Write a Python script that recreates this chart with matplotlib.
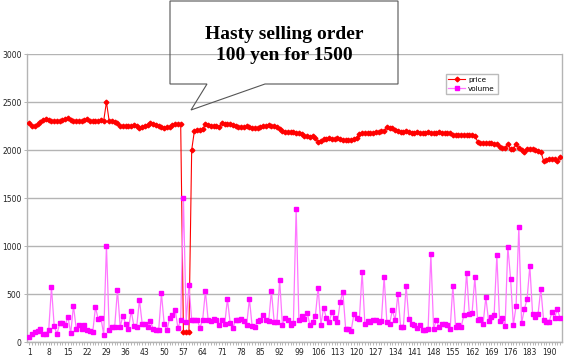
import matplotlib
matplotlib.use("Agg")
import matplotlib.pyplot as plt
from matplotlib.patches import Polygon

# price per day (yen)
price = [
    2278, 2255, 2250, 2270, 2290, 2310, 2320, 2315, 2306, 2306,
    2300, 2306, 2310, 2320, 2330, 2310, 2306, 2300, 2306, 2300,
    2310, 2320, 2306, 2300, 2306, 2300, 2310, 2306, 2500, 2300,
    2300, 2295, 2285, 2255, 2250, 2250, 2255, 2250, 2260, 2245,
    2233, 2240, 2255, 2265, 2278, 2270, 2261, 2250, 2240, 2233,
    2240, 2244, 2260, 2271, 2275, 2270, 100, 100, 100, 2000,
    2202, 2205, 2210, 2216, 2268, 2260, 2255, 2250, 2245, 2240,
    2285, 2268, 2270, 2268, 2260, 2250, 2243, 2243, 2240, 2245,
    2235, 2233, 2233, 2233, 2240, 2250, 2254, 2256, 2254, 2250,
    2243, 2215, 2195, 2190, 2190, 2185, 2190, 2180, 2175, 2167,
    2150, 2143, 2140, 2143, 2130, 2080, 2095, 2110, 2115, 2120,
    2115, 2118, 2122, 2110, 2105, 2100, 2105, 2105, 2110, 2129,
    2165, 2174, 2174, 2178, 2174, 2180, 2188, 2191, 2195, 2200,
    2236, 2230, 2226, 2210, 2200, 2191, 2191, 2195, 2184, 2180,
    2178, 2184, 2180, 2176, 2180, 2184, 2180, 2178, 2180, 2184,
    2180, 2176, 2178, 2174, 2160, 2157, 2157, 2155, 2157, 2155,
    2157, 2155, 2150, 2087, 2075, 2070, 2070, 2068, 2070, 2065,
    2060, 2030, 2018, 2018, 2063, 2008, 2008, 2063, 2018, 2000,
    1984, 2008, 2010, 2008, 1995, 1991, 1984, 1886, 1900, 1904,
    1908, 1910, 1886, 1925,
]

# traded volume per day
volume = [
    52, 87, 104, 111, 132, 87, 87, 128, 569, 163,
    83, 194, 201, 174, 264, 90, 378, 139, 174, 139,
    181, 128, 111, 101, 361, 240, 250, 76, 1003, 125,
    156, 160, 542, 160, 274, 184, 135, 326, 163, 156,
    438, 191, 184, 153, 215, 139, 128, 125, 507, 188,
    122, 250, 278, 337, 146, 229, 1500, 212, 590, 229,
    229, 229, 149, 232, 531, 226, 219, 243, 226, 177,
    232, 184, 448, 198, 149, 226, 229, 240, 222, 180,
    448, 163, 160, 219, 229, 285, 226, 215, 531, 212,
    205, 646, 180, 250, 229, 177, 200, 1389, 229, 271,
    240, 306, 180, 212, 274, 566, 180, 358, 247, 205,
    309, 250, 205, 413, 524, 139, 132, 118, 288, 250,
    240, 733, 184, 219, 212, 229, 229, 205, 215, 681,
    205, 191, 333, 226, 500, 160, 160, 583, 243, 188,
    181, 149, 177, 127, 127, 140, 913, 139, 226, 153,
    191, 184, 177, 132, 583, 153, 177, 153, 281, 722,
    288, 306, 674, 226, 240, 191, 465, 219, 257, 278,
    903, 222, 250, 170, 993, 660, 177, 375, 1198, 195,
    340, 448, 792, 292, 264, 292, 556, 229, 205, 205,
    309, 254, 340, 250,
]

tick_days = list(range(1, 191, 7))
y_ticks = [0, 500, 1000, 1500, 2000, 2500, 3000]

W, H = 564, 357
fig = plt.figure(figsize=(W / 100, H / 100), dpi=100)
ax = fig.add_axes([27 / W, 15 / H, 535 / W, 288 / H])

days_p = list(range(1, len(price) + 1))
days_v = list(range(1, len(volume) + 1))
ax.plot(days_p, price, color="#ff0000", lw=0.8, marker="D", ms=2.4,
        mec="#ff0000", mfc="#ff0000", label="price", zorder=3)
ax.plot(days_v, volume, color="#ff77ff", lw=0.9, marker="s", ms=3,
        mec="#ff00ff", mfc="#ff00ff", label="volume", zorder=3)

ax.set_xlim(0.1, 194.7)
ax.set_ylim(0, 3000)
ax.set_yticks(y_ticks)
ax.set_yticklabels([str(v) for v in y_ticks], fontsize=5.5, color="#222222")
ax.set_xticks(tick_days)
ax.set_xticklabels([str(d) for d in tick_days], fontsize=5.5, color="#222222")
ax.set_xticks(range(1, 195), minor=True)
ax.tick_params(axis="x", which="both", length=2, width=0.5, color="#999999", pad=2.5)
ax.tick_params(axis="y", length=2, width=0.5, color="#999999", pad=2)
ax.grid(axis="y", color="#b4b4b4", lw=1)
ax.set_axisbelow(True)
for s in ax.spines.values():
    s.set_color("#b4b4b4")
    s.set_linewidth(1)
ax.spines["top"].set_visible(False)

fig.legend(loc="upper left", bbox_to_anchor=(445.5 / W, 1 - 74 / H),
           fontsize=5.2, frameon=True, fancybox=False, edgecolor="#aaaaaa",
           handlelength=2.4, borderpad=0.35, labelspacing=0.45, handletextpad=0.4,
           borderaxespad=0)

# callout box
pts = [(170, 1), (398, 1), (398, 84), (265, 84), (191, 110), (207, 84), (170, 84)]
poly = Polygon([(x / W, 1 - y / H) for x, y in pts], closed=True, fill=False,
               edgecolor="#555555", lw=0.8, transform=fig.transFigure)
fig.patches.append(poly)
fig.text(284 / W, 1 - 45 / H, "Hasty selling order\n100 yen for 1500",
         ha="center", va="center", fontsize=14, fontweight="bold",
         family="Liberation Serif", linespacing=1.35)

fig.savefig("out.png", dpi=100)
